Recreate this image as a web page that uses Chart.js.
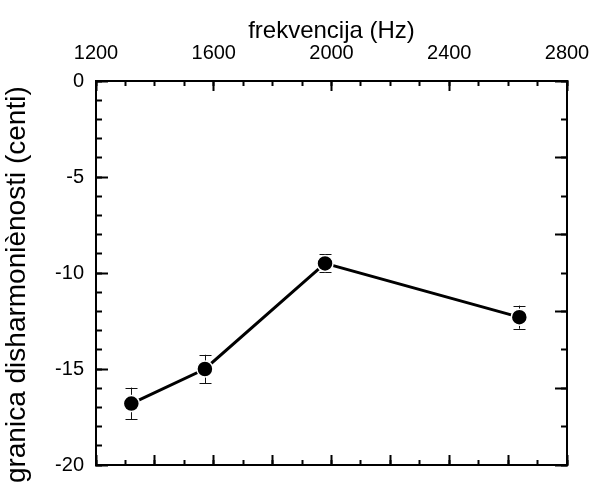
<!DOCTYPE html>
<html>
<head>
<meta charset="utf-8">
<script src="https://cdn.jsdelivr.net/npm/chart.js@4"></script>
<style>
  body { margin: 0; background: #fff; }
</style>
</head>
<body>
<canvas id="myChart" width="595" height="484"></canvas>
<script>
// frequency (Hz) and dissonance limit (cents), with error bar half-widths
const freq = [1320, 1570, 1978, 2638];
const limit = [-16.8, -15.0, -9.5, -12.3];
const errors = [0.83, 0.74, 0.47, 0.6];

const xTitle = "frekvencija (Hz)";
const yTitle = "granica disharmoniènosti (centi)";

const black = "#000";
const fam = "'Liberation Sans', Arial, sans-serif";

// error bars drawn under the points, using the chart's own scales
const errorBars = {
    id: "errorBars",
    beforeDatasetsDraw(chart) {
        const ctx = chart.ctx;
        const xs = chart.scales.x, ys = chart.scales.y;
        ctx.save();
        ctx.strokeStyle = "#111";
        ctx.lineWidth = 1;
        for (let i = 0; i < freq.length; i++) {
            const px = Math.round(xs.getPixelForValue(freq[i])) + 0.5;
            const top = ys.getPixelForValue(limit[i] + errors[i]);
            const bot = ys.getPixelForValue(limit[i] - errors[i]);
            ctx.beginPath();
            ctx.moveTo(px, top); ctx.lineTo(px, bot);
            ctx.moveTo(px - 6, Math.round(top) + 0.5); ctx.lineTo(px + 6, Math.round(top) + 0.5);
            ctx.moveTo(px - 6, Math.round(bot) + 0.5); ctx.lineTo(px + 6, Math.round(bot) + 0.5);
            ctx.stroke();
        }
        ctx.restore();
    }
};

function noPad(s) {
    s.paddingLeft = 0; s.paddingRight = 0; s.paddingTop = 0; s.paddingBottom = 0;
}

function noSize(s) {
    if (s.isHorizontal()) s.height = 0; else s.width = 0;
    noPad(s);
}

// an unlabeled axis that only draws inward tick marks
function tickAxis(position, min, max, step, len, weight, showBorder) {
    return {
        type: "linear",
        position: position,
        min: min,
        max: max,
        weight: weight,
        ticks: { stepSize: step, display: false, autoSkip: false },
        grid: { drawOnChartArea: false, tickLength: -len, tickColor: black, tickWidth: 2 },
        border: { display: showBorder, color: black, width: 2 },
        afterFit: noSize
    };
}

new Chart("myChart", {
    type: "line",
    data: {
        datasets: [{
            data: freq.map((f, i) => ({ x: f, y: limit[i] })),
            borderColor: black,
            borderWidth: 3,
            pointRadius: 8,
            pointBackgroundColor: black,
            pointBorderColor: "#fff",
            pointBorderWidth: 1.5,
            tension: 0,
            xAxisID: "x",
            yAxisID: "y"
        }]
    },
    options: {
        responsive: false,
        animation: false,
        layout: { padding: { left: 0, top: 0, right: 28, bottom: 19 } },
        plugins: { legend: { display: false }, tooltip: { enabled: false } },
        scales: {
            x: {
                type: "linear",
                position: "top",
                min: 1200,
                max: 2800,
                weight: 1,
                ticks: { stepSize: 400, color: black, font: { family: fam, size: 20 }, padding: 26, maxRotation: 0, autoSkip: false, callback: v => String(v) },
                grid: { drawOnChartArea: false, tickLength: -10, tickColor: black, tickWidth: 2 },
                border: { color: black, width: 2 },
                title: { display: true, text: xTitle, color: black, font: { family: fam, size: 24 }, padding: { top: 17, bottom: 0 } },
                afterFit: s => { s.height = 81; noPad(s); }
            },
            xMinor: tickAxis("top", 1200, 2800, 100, 5, 0, false),
            xBottom: tickAxis("bottom", 1200, 2800, 200, 10, 1, true),
            xBottomMinor: tickAxis("bottom", 1200, 2800, 100, 5, 0, false),
            y: {
                type: "linear",
                position: "left",
                min: -20,
                max: 0,
                weight: 1,
                ticks: { stepSize: 5, color: black, font: { family: fam, size: 20 }, padding: 24, autoSkip: false, callback: v => String(v) },
                grid: { drawOnChartArea: false, tickLength: -12, tickColor: black, tickWidth: 2 },
                border: { color: black, width: 2 },
                // trailing spaces nudge the centred title down, as in the original
                title: { display: true, text: yTitle + "   ", color: black, font: { family: fam, size: 28 }, padding: { top: 0, bottom: 0 } },
                afterFit: s => { s.width = 96; noPad(s); }
            },
            yMinor: tickAxis("left", -20, 0, 1, 6, 0, false),
            yRight: tickAxis("right", -20, 0, 4, 12, 1, true),
            yRightMinor: tickAxis("right", -20, 0, 2, 6, 0, false)
        }
    },
    plugins: [errorBars]
});
</script>
</body>
</html>
